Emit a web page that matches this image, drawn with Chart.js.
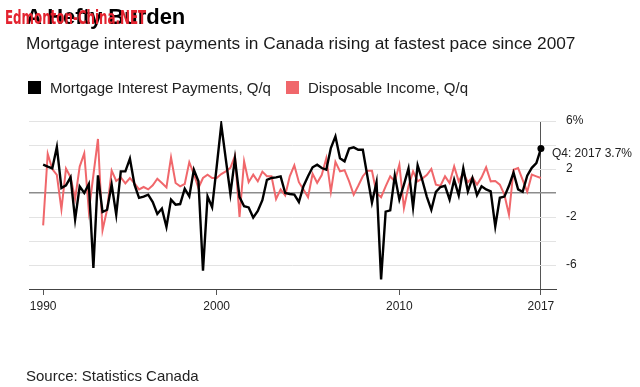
<!DOCTYPE html>
<html>
<head>
<meta charset="utf-8">
<script src="https://cdn.jsdelivr.net/npm/chart.js@4.4.1/dist/chart.umd.min.js"></script>
<style>
  body { margin: 0; background: #fff; font-family: "Liberation Sans", Arial, sans-serif; }
  #wrap { position: relative; width: 640px; height: 387px; overflow: hidden; }
  #chart-area { position: absolute; left: 0; top: 0; }
  .txt { position: absolute; white-space: nowrap; line-height: 1; }
  #watermark { left: 5px; top: 5px; font: bold 20px "Liberation Sans Narrow", "DejaVu Sans Condensed", sans-serif; color: #e3232f; z-index: 2; transform: scaleX(0.66); transform-origin: left top; }
  #title { left: 26px; top: 6px; font-size: 22px; font-weight: bold; color: #000; }
  #subtitle { left: 26px; top: 35px; font-size: 17.3px; color: #1a1a1a; }
  #legend { left: 28px; top: 80px; font-size: 15px; color: #222; }
  #legend span.box { display: inline-block; width: 13px; height: 13px; vertical-align: -1px; margin-right: 9px; }
  #legend span.item { margin-right: 15px; }
  #source { left: 26px; top: 368px; font-size: 15px; color: #222; }
</style>
</head>
<body>
<div id="wrap">
  <canvas id="chart-area" width="640" height="387"></canvas>
  <div class="txt" id="title">A Hefty Burden</div>
  <div class="txt" id="watermark">Edmonton-China.NET</div>
  <div class="txt" id="subtitle">Mortgage interest payments in Canada rising at fastest pace since 2007</div>
  <div class="txt" id="legend"></div>
  <div class="txt" id="source">Source: Statistics Canada</div>
</div>
<script>
var seriesNames = ["Mortgage Interest Payments, Q/q", "Disposable Income, Q/q"];
var seriesColors = ["#000000", "#f0676b"];

// quarterly % change, 1990 Q3 .. 2017 Q4
var mortgage = [
  2.36, 2.2, 2.05, 3.83, 0.42, 0.64, 1.3, -2.2, 0.55, 0.0,
  0.75, -6.25, 1.47, -1.58, -1.4, 0.7, -1.8, 1.8, 1.8, 2.86,
  0.7, -0.4, -0.3, -0.14, -0.75, -1.75, -1.3, -2.83, -0.55, -0.97,
  -0.92, 0.36, -0.28, 1.94, 0.97, -6.47, -0.28, -1.19, 2.2, 5.7,
  2.8, -0.06, 2.86, -0.34, -1.1, -1.2, -2.05, -1.5, -0.6, 1.1,
  1.25, 1.3, 1.39, 0.0, -0.08, -0.14, -0.75, 0.56, 1.39, 2.14,
  2.36, 2.08, 1.94, 3.75, 4.72, 2.9, 2.64, 3.7, 3.8, 3.6,
  3.6, 1.39, -0.8, 0.9, -7.2, -1.55, -1.45, 1.45, -0.55, 0.7,
  2.05, -1.2, 2.3, 1.1, -0.3, -1.4, 0.1, 0.5, 0.6, -0.55,
  1.1, -0.2, 2.05, 0.14, 1.25, -0.18, 0.56, 0.3, 0.14, -2.78,
  -0.4, -0.3, 0.6, 1.7, 0.3, 0.1, 1.45, 2.1, 2.5, 3.7
];
var income = [
  -2.7, 3.27, 2.0, 1.5, -1.36, 2.04, 1.32, -0.5, 2.2, 3.3,
  -1.5, 1.5, 4.5, -3.1, -1.39, 1.87, 1.0, 1.3, 0.8, 1.25,
  0.8, 0.3, 0.5, 0.3, 0.64, 1.19, 0.83, 0.47, 2.97, 0.83,
  0.56, 0.75, 2.57, 1.58, 0.42, 1.25, 1.53, 1.25, 1.25, 1.58,
  1.8, 2.1, 3.1, -2.0, 2.64, 0.9, 1.53, 0.97, 1.78, 1.4,
  1.39, -0.5, 0.3, -0.2, 1.39, 2.3, 0.9, 0.3, -0.35, 1.6,
  0.85, 1.5, 2.9, 0.1, 2.6, 1.8, 1.9, 0.97, -0.15, 0.6,
  1.4, 1.85, 1.85, 0.0, -0.35, 0.56, 1.39, 0.97, 2.36, -1.25,
  0.56, 1.8, 0.97, 1.2, 1.5, 2.0, 0.7, 0.6, 1.39, 0.83,
  2.22, 0.97, 1.67, 0.9, 1.3, 0.7, 1.3, 2.14, 0.97, 1.0,
  0.7, -0.14, -1.8, 1.94, 2.08, 1.1, 0.1, 1.53, 1.39, 1.25
];

var quarters = [];
for (var y = 1990; y <= 2017; y++) {
  for (var q = 1; q <= 4; q++) {
    if (y === 1990 && q < 3) continue;
    quarters.push(y + " Q" + q);
  }
}

var tickLabels = ["1990", "2000", "2010", "2017"];
var tickQuarters = ["1990 Q3", "2000 Q1", "2010 Q1", "2017 Q4"];
var tickIndex = tickQuarters.map(function (t) { return quarters.indexOf(t); });
var yLabels = { "6": "6%", "2": "2", "-2": "-2", "-6": "-6" };

var last = quarters.length - 1;
var lastLabel = "Q" + quarters[last].split(" Q")[1] + ": " + quarters[last].split(" ")[0] + " " + mortgage[last] + "%";

function toPoints(arr) {
  return arr.map(function (v, i) { return { x: i, y: v }; });
}

// html legend
var legendHtml = "";
seriesNames.forEach(function (name, i) {
  legendHtml += '<span class="item"><span class="box" style="background:' + seriesColors[i] + '"></span>' + name + "</span>";
});
document.getElementById("legend").innerHTML = legendHtml;

var lastPointLabel = {
  id: "lastPointLabel",
  afterDatasetsDraw: function (chart) {
    var pt = chart.getDatasetMeta(0).data[last];
    var ctx = chart.ctx;
    ctx.save();
    ctx.font = '12px "Liberation Sans", Arial, sans-serif';
    ctx.fillStyle = "#222";
    ctx.textBaseline = "middle";
    ctx.fillText(lastLabel, pt.x + 11, pt.y + 5);
    ctx.restore();
  }
};

var config = {
  type: "line",
  data: {
    datasets: [
      {
        label: seriesNames[0],
        data: toPoints(mortgage),
        borderColor: seriesColors[0],
        backgroundColor: seriesColors[0],
        borderWidth: 2.4,
        pointRadius: function (c) { return c.dataIndex === last ? 3.5 : 0; },
        pointBackgroundColor: "#000",
        pointBorderWidth: 0,
        tension: 0
      },
      {
        label: seriesNames[1],
        data: toPoints(income),
        borderColor: seriesColors[1],
        backgroundColor: seriesColors[1],
        borderWidth: 2,
        pointRadius: 0,
        tension: 0
      }
    ]
  },
  options: {
    responsive: false,
    animation: false,
    layout: { padding: { left: 29, right: 0, top: 121, bottom: 68 } },
    plugins: {
      legend: { display: false },
      tooltip: { enabled: false }
    },
    scales: {
      x: {
        type: "linear",
        min: -3.1,
        max: 112.3,
        afterBuildTicks: function (scale) {
          scale.ticks = tickIndex.map(function (v) { return { value: v }; });
        },
        afterFit: function (scale) { scale.height = 30; },
        ticks: {
          autoSkip: false,
          maxRotation: 0,
          padding: 4,
          color: "#222",
          font: { size: 12, family: '"Liberation Sans", Arial, sans-serif' },
          callback: function (value, index) { return tickLabels[index]; }
        },
        grid: {
          color: function (c) { return c.tick && c.tick.value === last ? "#555" : "rgba(0,0,0,0)"; },
          tickColor: "#555",
          tickLength: 6,
          lineWidth: 1
        },
        border: { display: true, color: "#444", width: 1 }
      },
      y: {
        position: "right",
        min: -8,
        max: 6,
        afterFit: function (scale) { scale.width = 84; },
        ticks: {
          stepSize: 2,
          padding: 10,
          crossAlign: "near",
          color: "#222",
          font: { size: 12, family: '"Liberation Sans", Arial, sans-serif' },
          callback: function (v) { return yLabels[String(v)] || ""; }
        },
        grid: {
          drawTicks: false,
          color: function (c) { return c.tick && c.tick.value === 0 ? "#8c8c8c" : "#e3e3e3"; },
          lineWidth: function (c) { return c.tick && c.tick.value === 0 ? 1.5 : 1; }
        },
        border: { display: false }
      }
    }
  },
  plugins: [lastPointLabel]
};

var ctx = document.getElementById("chart-area").getContext("2d");
window.chart = new Chart(ctx, config);
</script>
</body>
</html>
